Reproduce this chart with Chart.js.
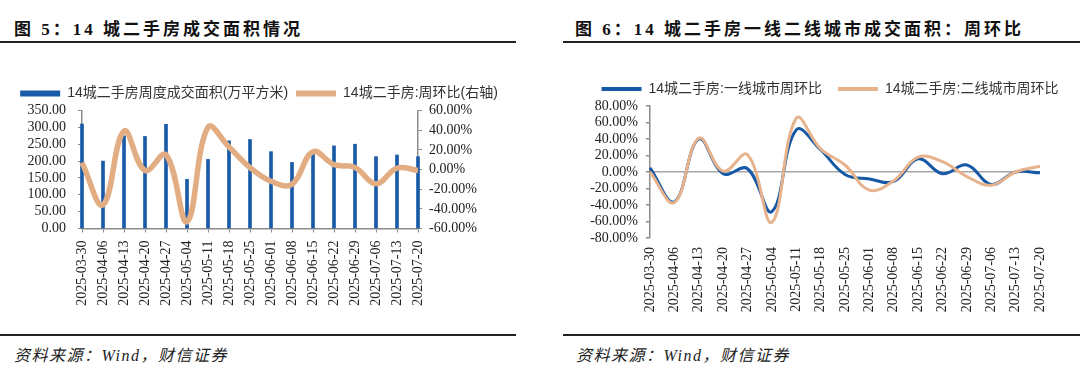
<!DOCTYPE html>
<html>
<head>
<meta charset="utf-8">
<script src="https://cdn.jsdelivr.net/npm/chart.js@4.4.0/dist/chart.umd.min.js"></script>
<style>
    body { margin: 0; background: #fff; }
    #page { position: relative; width: 1080px; height: 369px; overflow: hidden; background: #fff; }
    .title { position: absolute; top: 15px; font: bold 17px 'Liberation Serif', 'Noto Sans CJK SC'; letter-spacing: 3px; color: #111; white-space: nowrap; }
    .rule { position: absolute; height: 2px; background: #222; }
    .source { position: absolute; top: 342px; font: italic 16px 'Liberation Serif', 'Noto Sans CJK SC'; letter-spacing: 1.5px; color: #222; white-space: nowrap; }
    canvas { position: absolute; top: 60px; }
</style>
</head>
<body>
<div id="page">
    <div class="title" style="left:14px">图 5：14 城二手房成交面积情况</div>
    <div class="title" style="left:575px">图 6：14 城二手房一线二线城市成交面积：周环比</div>
    <div class="rule" style="left:0;top:41px;width:516px"></div>
    <div class="rule" style="left:563px;top:41px;width:517px"></div>
    <canvas id="areaChart" width="540" height="270" style="left:0"></canvas>
    <canvas id="tierChart" width="540" height="270" style="left:540px"></canvas>
    <div class="rule" style="left:0;top:334px;width:516px"></div>
    <div class="rule" style="left:563px;top:334px;width:517px"></div>
    <div class="source" style="left:14px">资料来源：Wind，财信证券</div>
    <div class="source" style="left:576px">资料来源：Wind，财信证券</div>
</div>
<script>
const weeks = ["2025-03-30", "2025-04-06", "2025-04-13", "2025-04-20", "2025-04-27", "2025-05-04",
    "2025-05-11", "2025-05-18", "2025-05-25", "2025-06-01", "2025-06-08", "2025-06-15",
    "2025-06-22", "2025-06-29", "2025-07-06", "2025-07-13", "2025-07-20"];

// 14城二手房周度成交面积 (万平方米)
const areaValues = [310, 200, 275, 273, 309, 146, 205, 260, 264, 228, 196, 226, 245, 250, 213, 218, 213];
// 周环比 (%)
const wowValues = [7, -36, 39, -1, 15, -53, 43, 23, 2, -12, -15, 18, 5, 2, -14.5, 1.5, -1];

// 一线 / 二线城市周环比 (%)
const tier1Values = [5, -36, 40, -2, 4, -48, 51, 27, -3, -8.5, -11.5, 16, -2, 8.5, -15, 0, -1];
const tier2Values = [0, -37, 41, 1, 21, -61, 65, 28, 8.5, -22, -10.5, 18, 12.5, -5.5, -16, 0, 7];

const BLUE = "#1a5ba8";
const TAN = "#e3ad84";
const AXIS = "#8c8c8c";
const TICK_FONT = { family: "'Liberation Serif', 'Noto Sans CJK SC'", size: 14 };
const LEGEND_FONT = { family: "'Liberation Sans', 'Noto Sans CJK SC'", size: 14 };

function pct(v) {
    return v.toFixed(2) + "%";
}

function legendLabels(chart) {
    const items = Chart.defaults.plugins.legend.labels.generateLabels(chart);
    items.forEach(item => {
        item.lineWidth = 0;
        item.fillStyle = chart.data.datasets[item.datasetIndex].borderColor;
    });
    return items;
}

function xAxis(tickMarks, pad) {
    return {
        offset: false,
        grid: { display: tickMarks, offset: false, drawOnChartArea: false, drawTicks: tickMarks, tickLength: 4, color: AXIS },
        border: { display: tickMarks, color: AXIS, width: 1.5 },
        ticks: { autoSkip: false, minRotation: 90, maxRotation: 90, padding: pad, color: "#222", font: TICK_FONT }
    };
}

new Chart(document.getElementById("areaChart"), {
    type: "bar",
    data: {
        labels: weeks,
        datasets: [{
            label: "14城二手房周度成交面积(万平方米)",
            data: areaValues,
            backgroundColor: BLUE,
            borderColor: BLUE,
            barThickness: 3,
            yAxisID: "y",
            order: 1,
            clip: false
        }, {
            type: "line",
            label: "14城二手房:周环比(右轴)",
            data: wowValues,
            borderColor: TAN,
            backgroundColor: TAN,
            borderWidth: 5.5,
            pointRadius: 0,
            tension: 0.4,
            yAxisID: "y1",
            order: 0,
            clip: false
        }]
    },
    options: {
        responsive: false,
        animation: false,
        devicePixelRatio: 1,
        layout: { padding: { top: 9, right: 22, left: 0, bottom: 0 } },
        plugins: {
            tooltip: { enabled: false },
            legend: {
                labels: {
                    boxWidth: 40, boxHeight: 6, padding: 8, color: "#333", font: LEGEND_FONT,
                    generateLabels: legendLabels,
                    sort: (a, b) => a.datasetIndex - b.datasetIndex
                }
            }
        },
        scales: {
            x: Object.assign(xAxis(true, 8), {
                afterFit: s => { s.height = 270 - 168.5; }
            }),
            y: {
                position: "left",
                min: 0, max: 350,
                grid: { drawOnChartArea: false, tickLength: 4, color: AXIS },
                border: { color: AXIS, width: 1.5 },
                ticks: { autoSkip: false, stepSize: 50, padding: 12, color: "#222", font: TICK_FONT, callback: v => v.toFixed(2) },
                afterFit: s => { s.width = 82; s.paddingTop = 50.5; }
            },
            y1: {
                position: "right",
                min: -60, max: 60,
                grid: { drawOnChartArea: false, tickLength: 4, color: AXIS },
                border: { color: AXIS, width: 1.5 },
                ticks: { autoSkip: false, stepSize: 20, padding: 7, color: "#222", font: TICK_FONT, callback: v => pct(v) },
                afterFit: s => { s.width = 100; }
            }
        }
    }
});

new Chart(document.getElementById("tierChart"), {
    type: "line",
    data: {
        labels: weeks,
        datasets: [{
            label: "14城二手房:一线城市周环比",
            data: tier1Values,
            borderColor: "#1558a6",
            backgroundColor: "#1558a6",
            borderWidth: 3,
            pointRadius: 0,
            tension: 0.4,
            order: 1,
            clip: false
        }, {
            label: "14城二手房:二线城市周环比",
            data: tier2Values,
            borderColor: "#e6b38c",
            backgroundColor: "#e6b38c",
            borderWidth: 3,
            pointRadius: 0,
            tension: 0.4,
            order: 0,
            clip: false
        }]
    },
    options: {
        responsive: false,
        animation: false,
        devicePixelRatio: 1,
        layout: { padding: { top: 0, right: 0, left: 40, bottom: 0 } },
        plugins: {
            tooltip: { enabled: false },
            legend: {
                labels: {
                    boxWidth: 40, boxHeight: 4, padding: 16, color: "#333", font: LEGEND_FONT,
                    generateLabels: legendLabels,
                    sort: (a, b) => a.datasetIndex - b.datasetIndex
                }
            }
        },
        scales: {
            x: Object.assign(xAxis(false, 9), {
                afterFit: s => { s.height = 270 - 178; s.paddingRight = 40; }
            }),
            y: {
                min: -80, max: 80,
                grid: {
                    tickLength: 4,
                    tickColor: AXIS,
                    lineWidth: 1.5,
                    color: c => (c.tick && c.tick.value === 0) ? "#a6a6a6" : "rgba(0,0,0,0)"
                },
                border: { color: AXIS, width: 1.5 },
                ticks: { autoSkip: false, stepSize: 20, padding: 8, color: "#222", font: TICK_FONT, callback: v => pct(v) },
                afterFit: s => { s.width = 70; s.paddingTop = 46; }
            }
        }
    }
});
</script>
</body>
</html>
